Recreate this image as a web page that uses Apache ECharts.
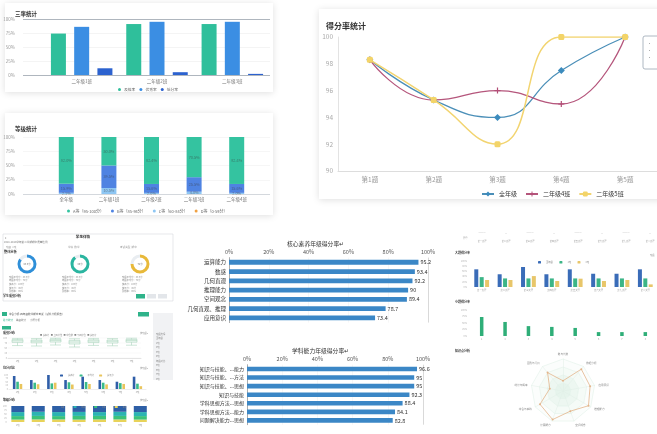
<!DOCTYPE html>
<html><head><meta charset="utf-8">
<script src="https://cdn.jsdelivr.net/npm/echarts@6/dist/echarts.min.js"></script>
<style>html,body{margin:0;padding:0;background:#fff;overflow:hidden}#c{width:657px;height:434px}</style>
</head><body><div id="c"></div>
<script>
// ---------- data ----------
const rateCats = ['二年级1班','二年级2班','二年级3班'];
const passRate = [74, 91, 91];
const excellentRate = [86, 95, 95];
const lowRate = [12, 5, 2];
const rateTicks = ['0%','25%','50%','75%','100%'];

const levelCats = ['全年级','二年级1班','二年级2班','二年级3班','二年级4班'];
const levelA = [82.0, 50.0, 82.4, 70.5, 82.4];
const levelB = [15.9, 39.5, 15.6, 25.5, 15.6];
const levelC = [2.1, 10.5, 2.0, 4.0, 2.0];
const levelD = [0, 0, 0, 0, 0];

const questionCats = ['第1题','第2题','第3题','第4题','第5题'];
const scoreAll = [98.3, 95.3, 94.0, 97.5, 100];
const scoreClass4 = [98.3, 95.3, 96.0, 95.0, 100];
const scoreClass5 = [98.3, 95.3, 92.0, 100, 100];

const coreCats = ['运算能力','数感','几何直观','推理能力','空间观念','几何直观、推理','应用意识'];
const coreValues = [95.2, 93.4, 92.2, 90, 89.4, 78.7, 73.4];

const abilityCats = ['知识与技能、...能力','知识与技能、...方法','知识与技能、...思想','知识与技能','学科思想方法...思想','学科思想方法...能力','问题解决能力...思想'];
const abilityValues = [96.6, 95, 95, 92.3, 88.4, 84.1, 82.8];

// mini dashboards
const donutValues = [85, 90, 75];
const donutScores = ['80.5', '86', '72'];
const boxCats = ['1班','2班','3班','4班','5班','6班','7班'];
const boxData = [[62,78,86,92,98],[60,76,84,90,97],[65,80,88,94,99],[55,70,80,88,96],[63,77,85,91,98],[61,75,84,90,97],[64,79,87,93,99]];
const avgCats = ['1班','2班','3班','4班','5班','6班','7班','8班'];
const avgMax = [93, 64, 100, 64, 88, 64, 52, 88];
const avgMean = [52, 45, 40, 48, 50, 45, 42, 38];
const avgMin = [36, 34, 45, 32, 36, 33, 36, 20];
const gradeCats = ['1班','2班','3班','4班','5班','6班','7班'];
const gradeA = [38, 36, 38, 37, 38, 36, 38];
const gradeB = [25, 26, 25, 25, 24, 26, 25];
const gradeC = [22, 22, 21, 23, 22, 22, 22];
const gradeD = [15, 16, 16, 15, 16, 16, 15];
const bigQCats = ['第一大题','第二大题','第三大题','第四大题','第五大题','第六大题','第七大题','第八大题'];
const bigQAll = [68, 49, 77, 49, 68, 51, 51, 68];
const bigQ1 = [38, 33, 33, 33, 33, 33, 33, 33];
const bigQ2 = [27, 27, 42, 23, 32, 23, 27, 10];
const smallQCats = ['1','2','3','4','5','6','7','8'];
const smallQ = [73, 54, 38, 35, 31, 15, 15, 15];
const radarNames = ['数与代数','图形与几何','统计与概率','综合与实践','计算能力','空间观念','推理能力','应用意识','数据分析'];
const radarValues = [32, 75, 42, 83, 95, 67, 92, 86, 89];

// ---------- helpers ----------
const F = 'Noto Sans CJK SC, Noto Sans, sans-serif';
const chart = echarts.init(document.getElementById('c'), null, {renderer:'canvas'});
const grids = [], xAxes = [], yAxes = [], series = [], legends = [], titles = [], graphics = [];
function txt(x, y, text, size, color, weight, align) {
  graphics.push({type:'text', x:x, y:y, z:5, style:{text:text, fill:color||'#999', fontSize:size, fontFamily:F, fontWeight:weight||'normal', textAlign:align||'left', textVerticalAlign:'middle'}});
}
function rect(x, y, w, h, style, z) {
  graphics.push({type:'rect', z: z==null?0:z, shape:{x:x, y:y, width:w, height:h, r:style.r||0}, style:style});
}

// cards
const cardShadow = {fill:'#fff', shadowBlur:7, shadowColor:'rgba(0,0,0,0.13)', shadowOffsetY:1};
rect(5, 3, 268, 89, cardShadow);
rect(5, 113, 268, 102, cardShadow);
rect(319, 9, 345, 190, cardShadow);

// ---------- panel 1: 三率统计 ----------
titles.push({text:'三率统计', left:10, top:6, textStyle:{fontSize:5.5, fontWeight:'bold', color:'#333', fontFamily:F}});
grids.push({left:23, top:19, width:247, height:56});          // g0 background
grids.push({left:44, top:19, width:226, height:56});          // g1 bars
xAxes.push({gridIndex:0, type:'category', data:rateCats, show:false});
yAxes.push({gridIndex:0, type:'value', min:0, max:100, interval:25, axisLine:{show:false}, axisTick:{show:false},
  axisLabel:{fontSize:4.5, color:'#999', formatter:v=>rateTicks[v/25]},
  splitLine:{lineStyle:{color:['#9aa3ad','#f1f1f1','#f1f1f1','#f1f1f1','#9aa3ad'], width:0.8}}});
xAxes.push({gridIndex:1, type:'category', data:rateCats, axisLine:{show:false}, axisTick:{show:false},
  axisLabel:{fontSize:4.5, color:'#777', margin:4}});
yAxes.push({gridIndex:1, type:'value', min:0, max:100, show:false, splitLine:{show:false}});
[['及格率', passRate, '#2fbf9b'], ['优秀率', excellentRate, '#3b8ee3'], ['低分率', lowRate, '#2c62cf']].forEach(s => {
  series.push({type:'bar', name:s[0], data:s[1], xAxisIndex:1, yAxisIndex:1, barWidth:15, barGap:'55%', itemStyle:{color:s[2]}});
});
legends.push({data:['及格率','优秀率','低分率'], left:113, top:82.5, icon:'circle', itemWidth:3, itemHeight:3, itemGap:4,
  textStyle:{fontSize:3.8, color:'#666', fontFamily:F, padding:[0,0,0,-2]}});

// ---------- panel 2: 等级统计 ----------
titles.push({text:'等级统计', left:10, top:121, textStyle:{fontSize:5.5, fontWeight:'bold', color:'#333', fontFamily:F}});
grids.push({left:23, top:137, width:247, height:57});          // g2 background
grids.push({left:45, top:137, width:213, height:57});          // g3 bars
xAxes.push({gridIndex:2, type:'category', data:levelCats, show:false});
yAxes.push({gridIndex:2, type:'value', min:0, max:100, interval:25, axisLine:{show:false}, axisTick:{show:false},
  axisLabel:{fontSize:4.5, color:'#999', formatter:v=>rateTicks[v/25]},
  splitLine:{lineStyle:{color:['#c9ced4','#f4f4f4','#f4f4f4','#f4f4f4','#f4f4f4'], width:0.8}}});
xAxes.push({gridIndex:3, type:'category', data:levelCats, axisLine:{show:false}, axisTick:{show:false},
  axisLabel:{fontSize:4.5, color:'#777', margin:3}});
yAxes.push({gridIndex:3, type:'value', min:0, max:100, show:false, splitLine:{show:false}});
const lvl = [['D等（0-59分）', levelD, '#f0a142'], ['C等（60-84分）', levelC, '#8dc6f3'], ['B等（85-94分）', levelB, '#4f83e2'], ['A等（95-100分）', levelA, '#34c3a0']];
lvl.forEach(s => {
  series.push({type:'bar', name:s[0], data:s[1], stack:'lv', xAxisIndex:3, yAxisIndex:3, barWidth:15, itemStyle:{color:s[2]},
    label:{show:true, position:'inside', fontSize:3.8, color:'rgba(60,60,60,0.55)', formatter:p=>p.value>=2 ? p.value.toFixed(1)+'%' : ''}});
});
legends.push({data:['A等（95-100分）','B等（85-94分）','C等（60-84分）','D等（0-59分）'], left:62, top:204, icon:'circle', itemWidth:3, itemHeight:3, itemGap:7,
  textStyle:{fontSize:4, color:'#666', fontFamily:F, padding:[0,0,0,-2]}});

// ---------- panel 3: 得分率统计 ----------
titles.push({text:'得分率统计', left:321, top:17, textStyle:{fontSize:8, fontWeight:'bold', color:'#333', fontFamily:F}});
grids.push({left:338, top:37, width:330, height:134});         // g4
xAxes.push({gridIndex:4, type:'category', data:questionCats, boundaryGap:true, axisLine:{lineStyle:{color:'#ddd'}}, axisTick:{show:false},
  axisLabel:{fontSize:6.5, color:'#999', margin:5}});
yAxes.push({gridIndex:4, type:'value', min:90, max:100, interval:2, axisLine:{show:true, lineStyle:{color:'#e3e3e3'}}, axisTick:{show:false},
  axisLabel:{fontSize:6.5, color:'#aaa', margin:5}, splitLine:{show:false}});
series.push({type:'line', name:'全年级', data:scoreAll, xAxisIndex:4, yAxisIndex:4, smooth:0.5, symbol:'diamond', symbolSize:7,
  lineStyle:{color:'#4b8fb8', width:1.3}, itemStyle:{color:'#3c8bbd'}});
series.push({type:'line', name:'二年级4班', data:scoreClass4, xAxisIndex:4, yAxisIndex:4, smooth:0.5,
  symbol:'path://M4 0H6V4H10V6H6V10H4V6H0V4H4Z', symbolSize:6, lineStyle:{color:'#b5567c', width:1.3}, itemStyle:{color:'#b24d76'}});
series.push({type:'line', name:'二年级5班', data:scoreClass5, xAxisIndex:4, yAxisIndex:4, smooth:0.5, symbol:'roundRect', symbolSize:6,
  lineStyle:{color:'#f2d470', width:1.5}, itemStyle:{color:'#f3d468'}});
legends.push({data:['全年级','二年级4班','二年级5班'], left:476, top:186, itemWidth:12, itemHeight:6, itemGap:8,
  textStyle:{fontSize:6, color:'#333', fontFamily:F}});
rect(643, 36, 16, 33, {fill:'#fff', stroke:'#9aa6b2', lineWidth:0.8, r:2}, 3);
txt(647, 43, '·', 5, '#999'); txt(647, 50, '·', 5, '#999'); txt(647, 57, '·', 5, '#999');

// ---------- panel 4: 核心素养 ----------
titles.push({text:'核心素养年级得分率↵', left:282, top:236,
  textStyle:{fontSize:5.8, color:'#333', fontWeight:'normal', fontFamily:F}});
grids.push({left:229, top:257.6, width:199, height:65});       // g5
xAxes.push({gridIndex:5, type:'value', position:'top', min:0, max:100, interval:20, axisLine:{show:false}, axisTick:{show:false},
  axisLabel:{fontSize:5.5, color:'#555', margin:3, formatter:'{value}%'},
  splitLine:{lineStyle:{color:['#fff','#f3f3f3','#f3f3f3','#f3f3f3','#f3f3f3','#c9c9c9'], width:0.7}}});
yAxes.push({gridIndex:5, type:'category', data:coreCats, inverse:true, axisLine:{lineStyle:{color:'#888', width:0.7}},
  axisTick:{length:2, lineStyle:{color:'#888'}}, axisLabel:{fontSize:5.5, color:'#333', margin:3}});
series.push({type:'bar', name:'核心素养', data:coreValues, xAxisIndex:5, yAxisIndex:5, barWidth:4.8, itemStyle:{color:'#3b87c6'},
  label:{show:true, position:'right', fontSize:5.5, color:'#333', distance:2}});

// ---------- panel 5: 学科能力 ----------
titles.push({text:'学科能力年级得分率↵', left:287, top:343, textStyle:{fontSize:5.8, color:'#333', fontWeight:'normal', fontFamily:F}});
grids.push({left:247, top:364.7, width:176, height:60});       // g6
xAxes.push({gridIndex:6, type:'value', position:'top', min:0, max:100, interval:20, axisLine:{show:false}, axisTick:{show:false},
  axisLabel:{fontSize:5.5, color:'#555', margin:3, formatter:'{value}%'},
  splitLine:{lineStyle:{color:['#fff','#f3f3f3','#f3f3f3','#f3f3f3','#f3f3f3','#c9c9c9'], width:0.7}}});
yAxes.push({gridIndex:6, type:'category', data:abilityCats, inverse:true, axisLine:{lineStyle:{color:'#888', width:0.7}},
  axisTick:{length:2, lineStyle:{color:'#888'}}, axisLabel:{fontSize:5, color:'#333', margin:3}});
series.push({type:'bar', name:'学科能力', data:abilityValues, xAxisIndex:6, yAxisIndex:6, barWidth:4.6, itemStyle:{color:'#3b87c6'},
  label:{show:true, position:'right', fontSize:5.5, color:'#333', distance:2}});

// ---------- panel 6: mini dashboard (学生详情) ----------
rect(3, 234, 170, 67, {fill:'#fff', stroke:'#d6d9dd', lineWidth:0.6});
txt(5, 237, '‹', 5, '#666');
txt(83, 237, '学生详情', 3.6, '#333', 'bold', 'center');
txt(4, 242, '2018-2019学年第二学期期中质量检测', 2.6, '#777');
txt(6, 247, '班级  1班', 2.6, '#999'); txt(68, 247, '学科  数学', 2.6, '#999'); txt(120, 247, '考试类型  期中', 2.6, '#999');
txt(4, 252, '整体分析', 3.2, '#333', 'bold');
const donutCenters = [[27,264],[80,264],[140,264]];
const donutColors = ['#2f8fd8','#2bb5a0','#e8b93a'];
donutValues.forEach((v, i) => {
  series.push({type:'pie', name:'donut'+i, center:donutCenters[i], radius:[6.5, 9.5], silent:true, startAngle:90,
    label:{show:false}, labelLine:{show:false},
    data:[{value:v, itemStyle:{color:donutColors[i]}}, {value:100-v, itemStyle:{color:'#e9edf1'}}]});
  txt(donutCenters[i][0], donutCenters[i][1], donutScores[i]+'分', 2.4, '#666', 'normal', 'center');
  const bx = donutCenters[i][0] - 18;
  ['班级平均分：80.5分','年级平均分：78分','最高分：100分','最低分：45分','及格率：95%'].forEach((t, k) => {
    txt(bx, 277 + k*3.6, t, 2.3, '#888');
  });
});
txt(3, 296, '学生成绩分析', 3, '#333', 'bold');
rect(136, 294, 9, 4.5, {fill:'#2fb38a'}, 3); rect(147, 294, 9, 4.5, {fill:'#e3e6ea'}, 3); rect(158, 294, 9, 4.5, {fill:'#e3e6ea'}, 3);
rect(153, 313, 20, 67, {fill:'#f1f2f4'});
rect(2, 312, 5, 4, {fill:'#2fb38a'}, 3);
txt(9, 314, '综合分析-四年级数学期中考试（试卷分析报告）', 2.6, '#555');
rect(138, 312, 11, 4.5, {fill:'#2fb38a'}, 3);
txt(3, 320.5, '总分统计', 2.5, '#2fb38a'); txt(16, 320.5, '等级统计', 2.5, '#777'); txt(30, 320.5, '小题分析', 2.5, '#777');
rect(2, 326, 9, 3.5, {fill:'#2fb38a'}, 3);
['班级选择','全年级','1班','2班','3班','4班','年级对比','5班','6班','7班','8班'].forEach((t, k) => txt(156, 334 + k*4.5, t, 2.3, '#888'));

// ---------- panel 7: mini charts ----------
txt(3, 333, '成绩分布', 3, '#333', 'bold');
txt(40, 335.5, '■ 最高分   ■ 上四分位   ■ 中位数   ■ 下四分位   ■ 最低分', 2.2, '#888');
txt(140, 333, '按班级 ▾', 2.3, '#999');
grids.push({left:8, top:338, width:133, height:20});           // g7
xAxes.push({gridIndex:7, type:'category', data:boxCats, axisLine:{lineStyle:{color:'#ccc', width:0.5}}, axisTick:{show:false},
  axisLabel:{fontSize:2.3, color:'#999', margin:2}});
yAxes.push({gridIndex:7, type:'value', min:0, max:100, interval:25, axisLine:{show:false}, axisTick:{show:false},
  axisLabel:{fontSize:2.3, color:'#aaa', margin:1}, splitLine:{lineStyle:{color:'#f0f0f0', width:0.4}}});
series.push({type:'boxplot', name:'成绩分布', data:boxData, xAxisIndex:7, yAxisIndex:7, boxWidth:[9,11],
  itemStyle:{color:'#f2faf5', borderColor:'#a9d4bc', borderWidth:0.6}});

txt(3, 368, '均分对比', 3, '#333', 'bold');
txt(140, 368, '按班级 ▾', 2.3, '#999');
grids.push({left:9, top:375, width:137, height:14});           // g8
xAxes.push({gridIndex:8, type:'category', data:avgCats, axisLine:{lineStyle:{color:'#ddd', width:0.5}}, axisTick:{show:false},
  axisLabel:{fontSize:2.3, color:'#999', margin:2}});
yAxes.push({gridIndex:8, type:'value', min:0, max:100, interval:25, axisLine:{show:false}, axisTick:{show:false},
  axisLabel:{fontSize:2.2, color:'#aaa', margin:1}, splitLine:{show:false}});
[['最高分', avgMax, '#2f5ea8'], ['平均分', avgMean, '#3bbb8a'], ['最低分', avgMin, '#e9c55c']].forEach(s => {
  series.push({type:'bar', name:s[0], data:s[1], xAxisIndex:8, yAxisIndex:8, barWidth:2.6, barGap:'30%', itemStyle:{color:s[2]}});
});
legends.push({data:['最高分','平均分','最低分'], left:55, top:369.5, itemWidth:3, itemHeight:2, itemGap:5, textStyle:{fontSize:2.2, color:'#888', fontFamily:F}});

txt(3, 400, '等级分布', 3, '#333', 'bold');
txt(140, 400, '按班级 ▾', 2.3, '#999');
grids.push({left:7, top:406, width:143.5, height:16});         // g9
xAxes.push({gridIndex:9, type:'category', data:gradeCats, axisLine:{show:false}, axisTick:{show:false},
  axisLabel:{fontSize:2.3, color:'#999', margin:2}});
yAxes.push({gridIndex:9, type:'value', min:0, max:100, interval:25, axisLine:{show:false}, axisTick:{show:false},
  axisLabel:{fontSize:2.2, color:'#aaa', margin:1}, splitLine:{show:false}});
[['D等', gradeD, '#e8d35a'], ['C等', gradeC, '#3cc27a'], ['B等', gradeB, '#2bb4b2'], ['A等', gradeA, '#2e5fa6']].forEach(s => {
  series.push({type:'bar', name:s[0], data:s[1], stack:'gd', xAxisIndex:9, yAxisIndex:9, barWidth:13, itemStyle:{color:s[2]}});
});
legends.push({data:['A等','B等','C等','D等'], left:48, top:401, itemWidth:3, itemHeight:2, itemGap:9, textStyle:{fontSize:2.2, color:'#888', fontFamily:F}});

// ---------- panel 8: 大题得分率 ----------
['第一大题','第二大题','第三大题','第四大题','第五大题','第六大题','第七大题','第八大题'].forEach((t, k) => {
  txt(482 + k*24, 233, k%2===0 ? '━━━' : '—', 2.3, '#bbb', 'normal', 'center');
  txt(482 + k*24, 241, t, 2.2, '#999', 'normal', 'center');
});
txt(463, 238, '题号', 2.3, '#999');
txt(455, 253, '大题得分率', 3, '#333', 'bold');
txt(650, 255, '班级', 2.3, '#999');
grids.push({left:470, top:261, width:192, height:26});         // g10
xAxes.push({gridIndex:10, type:'category', data:bigQCats, axisLine:{show:false}, axisTick:{show:false},
  axisLabel:{fontSize:2.3, color:'#999', margin:2}});
yAxes.push({gridIndex:10, type:'value', min:0, max:100, interval:20, axisLine:{show:false}, axisTick:{show:false},
  axisLabel:{fontSize:2.3, color:'#aaa', margin:3, formatter:'{value}%'}, splitLine:{show:false}});
[['全年级 ', bigQAll, '#3a6cb8'], ['1班 ', bigQ1, '#3cb587'], ['2班 ', bigQ2, '#e8c66a']].forEach(s => {
  series.push({type:'bar', name:s[0], data:s[1], xAxisIndex:10, yAxisIndex:10, barWidth:4, barGap:'35%', itemStyle:{color:s[2]}});
});
legends.push({data:['全年级 ','1班 ','2班 '], left:533, top:256, itemWidth:3, itemHeight:2.5, itemGap:6, textStyle:{fontSize:2.3, color:'#888', fontFamily:F}});

// ---------- panel 9: 小题得分率 + radar ----------
txt(455, 302, '小题得分率', 3, '#333', 'bold');
grids.push({left:470, top:310, width:192, height:26});         // g11
xAxes.push({gridIndex:11, type:'category', data:smallQCats, axisLine:{show:false}, axisTick:{show:false},
  axisLabel:{fontSize:2.3, color:'#999', margin:2}});
yAxes.push({gridIndex:11, type:'value', min:0, max:100, interval:25, axisLine:{show:false}, axisTick:{show:false},
  axisLabel:{fontSize:2.3, color:'#aaa', margin:3, formatter:'{value}%'}, splitLine:{show:false}});
series.push({type:'bar', name:'小题得分率', data:smallQ, xAxisIndex:11, yAxisIndex:11, barWidth:3.5, itemStyle:{color:'#2fae78'}});

txt(455, 351, '知识点分析', 3, '#333', 'bold');
const radar = {center:[563, 391], radius:32, shape:'polygon', startAngle:90,
  indicator: radarNames.map(n => ({name:n, max:100})),
  axisName:{fontSize:2.6, color:'#888', fontFamily:F}, nameGap:4,
  splitNumber:4,
  splitArea:{areaStyle:{color:['#e6f4ec','#edf7f1','#f5fbf7','#fbfdfc']}},
  splitLine:{lineStyle:{color:'#dcefe4', width:0.5}},
  axisLine:{lineStyle:{color:'#e0eee6', width:0.5}}};
series.push({type:'radar', name:'知识点', radarIndex:0, symbol:'circle', symbolSize:2,
  lineStyle:{color:'#e3b58b', width:0.8}, itemStyle:{color:'#e3b58b'},
  data:[{value:radarValues, name:'得分率'}]});

chart.setOption({
  animation:false,
  textStyle:{fontFamily:F},
  title:titles, grid:grids, xAxis:xAxes, yAxis:yAxes, legend:legends, radar:radar,
  series:series, graphic:{elements:graphics}
});
</script></body></html>
